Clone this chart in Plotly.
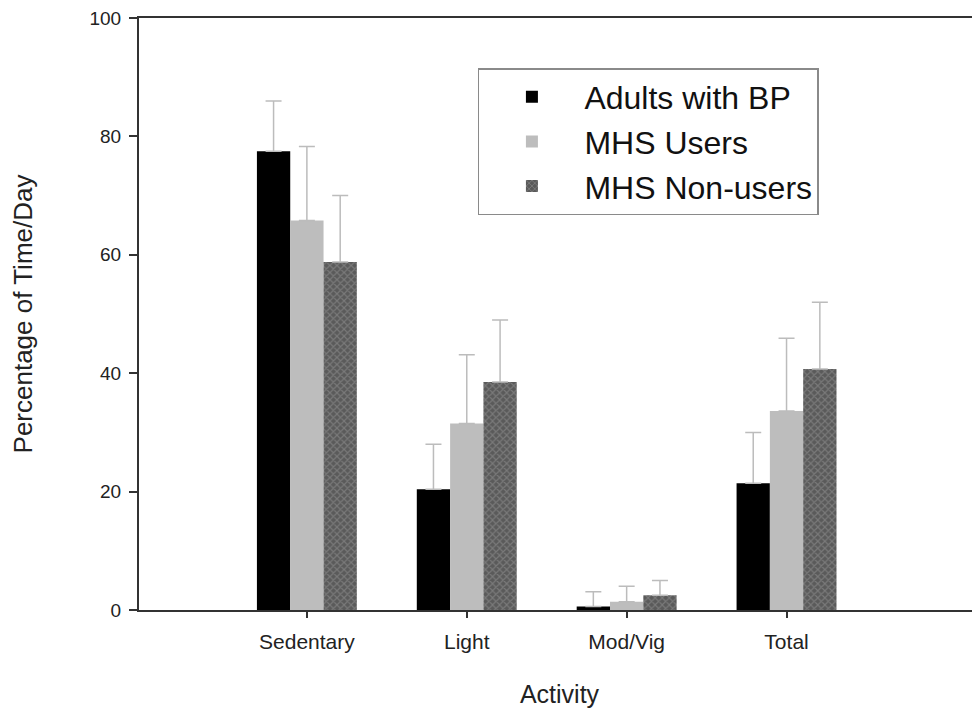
import plotly.graph_objects as go

categories = ["Sedentary", "Light", "Mod/Vig", "Total"]
series_names = ["Adults with BP", "MHS Users", "MHS Non-users"]
adults_bp = [77.5, 20.4, 0.6, 21.4]
adults_bp_err = [8.5, 7.6, 2.5, 8.6]
mhs_users = [65.8, 31.5, 1.4, 33.6]
mhs_users_err = [12.5, 11.6, 2.6, 12.3]
mhs_nonusers = [58.8, 38.5, 2.5, 40.7]
mhs_nonusers_err = [11.2, 10.5, 2.5, 11.3]
y_ticks = [0, 20, 40, 60, 80, 100]

FONT = "Liberation Sans, Arial, sans-serif"
err_style = dict(type="data", symmetric=False, color="#bcbcbc", thickness=1.5, width=8)

fig = go.Figure()
fig.add_trace(go.Bar(
    x=categories, y=adults_bp, name=series_names[0],
    marker=dict(color="#000000", line=dict(width=0)),
    error_y=dict(err_style, array=adults_bp_err),
))
fig.add_trace(go.Bar(
    x=categories, y=mhs_users, name=series_names[1],
    marker=dict(color="#bdbdbd", line=dict(width=0)),
    error_y=dict(err_style, array=mhs_users_err),
))
fig.add_trace(go.Bar(
    x=categories, y=mhs_nonusers, name=series_names[2],
    marker=dict(color="#6a6a6a", line=dict(width=0),
                pattern=dict(shape="x", fgcolor="#9a9a9a", bgcolor="#5a5a5a", size=5, solidity=0.4)),
    error_y=dict(err_style, array=mhs_nonusers_err),
))

fig.update_layout(
    width=980, height=719,
    margin=dict(l=131, r=8, t=10, b=117, autoexpand=False),
    paper_bgcolor="white", plot_bgcolor="white",
    barmode="group", bargap=0.375, bargroupgap=0,
    font=dict(family=FONT, color="#222222"),
    showlegend=True,
    legend=dict(
        x=0.403, y=0.9155, xanchor="left", yanchor="top",
        bgcolor="white", bordercolor="#8a8a8a", borderwidth=1.5,
        font=dict(size=32, family=FONT, color="#111111"),
        tracegroupgap=0, itemwidth=95,
    ),
    xaxis=dict(
        type="category", range=[-1.05, 4.21],
        showline=True, linecolor="#333333", linewidth=2, mirror=True,
        ticks="outside", ticklen=6, tickcolor="#333333", tickwidth=1.5,
        tickfont=dict(size=21, family=FONT, color="#222222"),
        ticklabelstandoff=6,
        showgrid=False, zeroline=False, automargin=False,
        title=dict(text="Activity", font=dict(size=25, family=FONT, color="#222222"), standoff=33),
    ),
    yaxis=dict(
        range=[0, 100], tickvals=y_ticks,
        showline=True, linecolor="#333333", linewidth=2,
        ticks="outside", ticklen=8, tickcolor="#333333", tickwidth=1.5,
        tickfont=dict(size=19, family=FONT, color="#222222"),
        ticklabelstandoff=4, ticklabeloverflow="allow",
        showgrid=False, zeroline=False, automargin=False,
        title=dict(text="Percentage of Time/Day", font=dict(size=26, family=FONT, color="#222222"), standoff=55),
    ),
)

fig.write_html("out.html")
